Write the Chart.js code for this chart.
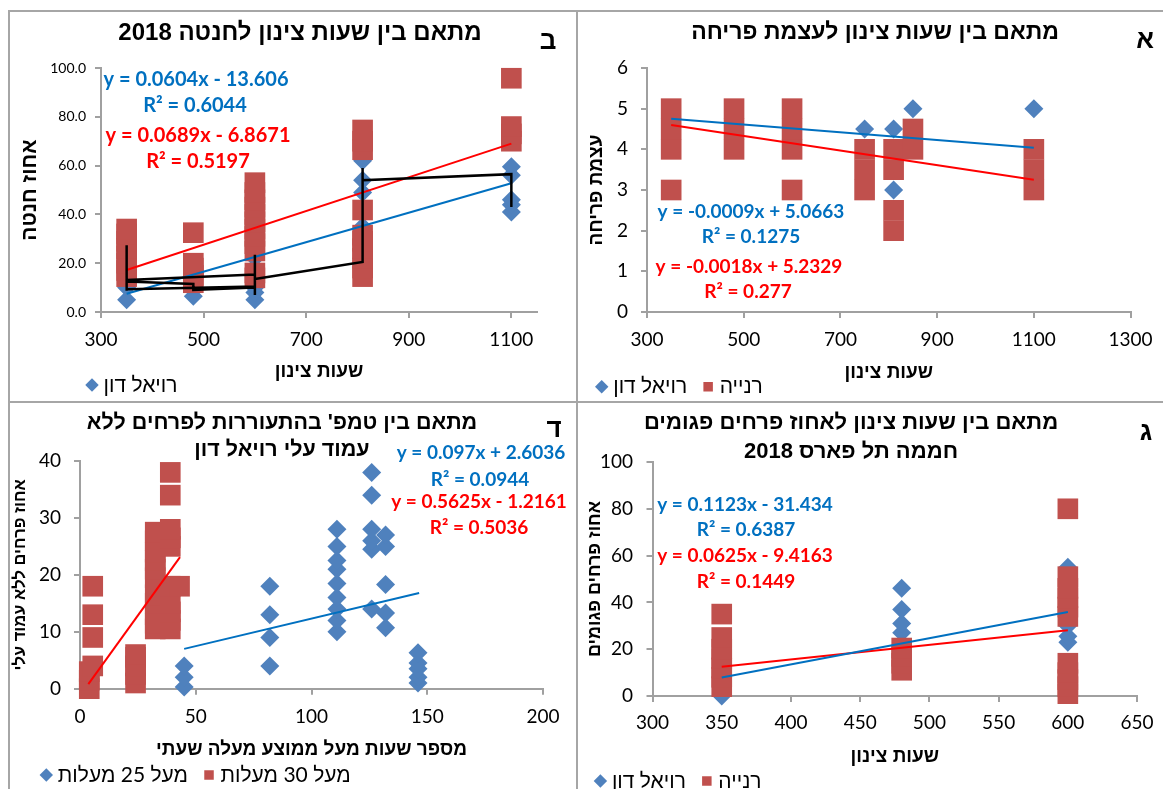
<!DOCTYPE html>
<html lang="he">
<head>
<meta charset="utf-8">
<title>מתאם בין שעות צינון</title>
<script src="https://cdn.jsdelivr.net/npm/chart.js@4.4.0/dist/chart.umd.min.js"></script>
<style>
  body { margin: 0; background: #fff; width: 1163px; height: 789px; position: relative; overflow: hidden; }
  .line { position: absolute; background: #a6a6a6; }
  canvas { position: absolute; direction: rtl; }
</style>
</head>
<body>
<div class="line" style="left:8px;top:10px;width:1155px;height:2px"></div>
<div class="line" style="left:8px;top:10px;width:2px;height:779px"></div>
<div class="line" style="left:576px;top:10px;width:2px;height:779px"></div>
<div class="line" style="left:8px;top:401px;width:1155px;height:2px"></div>
<canvas id="chartB" width="566" height="389" style="left:10px;top:12px"></canvas>
<canvas id="chartA" width="585" height="389" style="left:578px;top:12px"></canvas>
<canvas id="chartD" width="566" height="386" style="left:10px;top:403px"></canvas>
<canvas id="chartG" width="585" height="386" style="left:578px;top:403px"></canvas>
<script>
// ---- data: panel ב (fruit set) ----
const bHours = [350, 480, 600, 810, 1100];
const bRoyalDon = [[5, 10], [6.5, 9], [5, 8, 10, 22], [35, 49, 54, 62], [41, 44, 46, 56, 59.5]];
const bRanya = [[14.5, 17, 20, 23, 26, 29, 32, 34], [12, 15, 18, 20, 32.5], [14, 16, 25, 28, 31, 34, 37, 40, 43, 46, 49, 53], [14.5, 18, 22, 26, 29, 31.5, 41.8, 66.5, 70, 74.6], [70, 73, 76, 95.8]];
const bTrendHours = [350, 1100];
const bRoyalDonTrend = [7.5, 52.8];
const bRanyaTrend = [17.2, 69.0];
const bLineAHours = [350, 600];
const bLineAValues = [13.1, 15.4];
const bLineBHours = [350, 600];
const bLineBValues = [9.3, 10.4];
const bLineCHours = [350, 480, 480, 600];
const bLineCValues = [12.5, 11.5, 9, 10];
const bLineDHours = [600, 810, 810, 1100, 1100];
const bLineDValues = [13.5, 20.5, 54, 56.5, 43];
const bErrHours = [350, 600, 810];
const bErrLow = [8.7, 7, 20.5];
const bErrHigh = [27.4, 23.5, 59];
const bXTicks = [300, 500, 700, 900, 1100];
const bYTicks = [0, 20, 40, 60, 80, 100];

// ---- data: panel א (bloom strength) ----
const aHours = [350, 480, 600, 750, 810, 850, 1100];
const aRoyalDon = [[4.5, 5], [4.5], [4.5], [4.5], [3, 4.5], [5], [5]];
const aRanya = [[3, 4, 4.5, 5], [4, 4.5, 5], [3, 4, 4.5, 5], [3, 3.5, 4], [2, 2.5, 3.5, 4], [4, 4.5], [3, 3.5, 4]];
const aTrendHours = [350, 1100];
const aRoyalDonTrend = [4.75, 4.04];
const aRanyaTrend = [4.6, 3.25];
const aXTicks = [300, 500, 700, 900, 1100, 1300];
const aYTicks = [0, 1, 2, 3, 4, 5, 6];

// ---- data: panel ד (flowers without leaf column) ----
const dWarmHours = [45, 82, 111, 126, 132, 146];
const dAbove25 = [[0.3, 2, 4], [4, 9, 13, 18], [10, 12, 14, 16, 18.5, 21, 22.5, 25, 28], [14, 24.5, 26, 28, 34, 38], [10.7, 13.3, 18.3, 25, 27], [1, 2, 3.5, 4.5, 6.3]];
const dHotHours = [4, 5.5, 24, 32.5, 39, 43];
const dAbove30 = [[0, 1.5, 3], [4, 9, 13, 18], [1, 2.5, 4, 5.5, 6], [10.5, 11.5, 13, 15, 16.5, 19.5, 21, 22.5, 24, 26, 27.5], [10.5, 12, 13.5, 15, 18, 25, 26.5, 28, 34, 38], [18]];
const dAbove25TrendX = [45, 146.5];
const dAbove25Trend = [7.0, 16.8];
const dAbove30TrendX = [3.6, 43.2];
const dAbove30Trend = [0.8, 23.1];
const dXTicks = [0, 50, 100, 150, 200];
const dYTicks = [0, 10, 20, 30, 40];

// ---- data: panel ג (damaged flowers) ----
const gHours = [350, 480, 600];
const gRoyalDon = [[0, 5, 10], [22, 27, 31, 37, 46], [23, 25.5, 30, 55]];
const gRanya = [[4, 8, 12, 16, 20, 25, 35], [11, 14, 17, 20.5], [1, 4, 7, 10, 14, 34, 38, 42, 46, 51, 80]];
const gTrendHours = [350, 600];
const gRoyalDonTrend = [7.9, 35.9];
const gRanyaTrend = [12.5, 28.1];
const gXTicks = [300, 350, 400, 450, 500, 550, 600, 650];
const gYTicks = [0, 20, 40, 60, 80, 100];

const BLUE = '#4F81BD';
const RED = '#C0504D';
const TREND_BLUE = '#0070C0';
const TREND_RED = '#FF0000';
const AXIS = '#a0a0a0';
const HEB = "'Liberation Sans', Arial, sans-serif";
const NUM = "Lato, 'Liberation Sans', sans-serif";

Chart.defaults.color = '#000';
Chart.defaults.font.family = NUM;

const groupPoints = (xs, groups) => xs.flatMap((x, i) => groups[i].map(y => ({ x, y })));
const pairPoints = (xs, ys) => xs.map((x, i) => ({ x, y: ys[i] }));
// several polylines in one dataset, split by gaps
const joinLines = (lines) => lines.flatMap((l, i) => (i ? [{ x: l[0][0], y: null }] : []).concat(pairPoints(l[0], l[1])));

function markerSet(label, points, diamond) {
  return {
    label,
    data: points,
    pointStyle: diamond ? 'rectRot' : 'rect',
    pointRadius: diamond ? 9.5 : 14.6,
    pointHoverRadius: diamond ? 9.5 : 14.6,
    backgroundColor: diamond ? BLUE : RED,
    borderColor: diamond ? BLUE : RED,
    borderWidth: 0,
    showLine: false,
    clip: false,
    order: diamond ? 3 : 2
  };
}

function lineSet(points, color, width, order) {
  return {
    label: '',
    data: points,
    showLine: true,
    spanGaps: false,
    borderColor: color,
    borderWidth: width,
    pointRadius: 0,
    pointHoverRadius: 0,
    clip: false,
    order
  };
}

function axis(o) {
  return {
    type: 'linear',
    min: o.min,
    max: o.max,
    afterBuildTicks: s => { s.ticks = o.ticks.map(v => ({ value: v })); },
    afterFit: s => {
      if (o.width !== undefined) s.width = o.width;
      if (o.height !== undefined) s.height = o.height;
    },
    border: { display: true, color: AXIS, width: 2 },
    grid: { drawOnChartArea: false, drawTicks: true, tickLength: 6, color: AXIS, lineWidth: 2 },
    ticks: {
      font: { family: NUM, size: o.tickSize },
      color: '#000',
      padding: o.tickPad,
      maxRotation: 0,
      autoSkip: false,
      callback: o.format || (v => v)
    },
    title: {
      display: true,
      text: o.title,
      color: '#000',
      font: { family: HEB, size: o.titleSize, weight: 'bold' },
      padding: o.titlePad
    }
  };
}

// titles, panel letter, trendline equations, legend offset
const panelText = {
  id: 'panelText',
  afterLayout(chart, args, opts) {
    if (chart.legend && opts.legendDx) {
      chart.legend.left += opts.legendDx;
      chart.legend.right += opts.legendDx;
    }
  },
  afterDraw(chart, args, opts) {
    const ctx = chart.ctx;
    ctx.save();
    ctx.textBaseline = 'middle';
    ctx.textAlign = 'center';
    ctx.fillStyle = '#000';
    ctx.direction = 'rtl';
    ctx.font = 'bold ' + opts.titleSize + 'px ' + HEB;
    opts.title.forEach((line, i) => ctx.fillText(line, opts.titleX, opts.titleY + i * opts.titleGap));
    ctx.font = 'bold 26px ' + HEB;
    ctx.fillText(opts.letter, opts.letterX, opts.letterY);
    ctx.direction = 'ltr';
    ctx.font = 'bold ' + opts.noteSize + 'px ' + NUM;
    opts.notes.forEach(n => {
      ctx.fillStyle = n.color;
      ctx.fillText(n.text, n.x, n.y);
    });
    ctx.restore();
  }
};

function makePanel(id, p) {
  return new Chart(document.getElementById(id), {
    type: 'scatter',
    data: { datasets: p.datasets },
    options: {
      responsive: false,
      animation: false,
      devicePixelRatio: 1,
      events: [],
      layout: { padding: p.padding },
      scales: { x: p.x, y: p.y },
      plugins: {
        tooltip: { enabled: false },
        title: { display: false },
        legend: {
          display: true,
          position: 'bottom',
          align: 'start',
          textDirection: 'rtl',
          labels: {
            usePointStyle: true,
            boxWidth: 2,
            boxHeight: 9.5,
            padding: 20,
            color: '#000',
            font: { family: NUM, size: 21 },
            filter: item => item.datasetIndex < p.legendCount,
            sort: (a, b) => a.datasetIndex - b.datasetIndex
          }
        },
        panelText: p.text
      }
    },
    plugins: [panelText]
  });
}

// panel ב
makePanel('chartB', {
  legendCount: 1,
  padding: { left: 0, right: 39, top: 56, bottom: -4.5 },
  datasets: [
    markerSet('רויאל דון', groupPoints(bHours, bRoyalDon), true),
    markerSet('רנייה', groupPoints(bHours, bRanya), false),
    lineSet(pairPoints(bTrendHours, bRoyalDonTrend), TREND_BLUE, 2, 1),
    lineSet(pairPoints(bTrendHours, bRanyaTrend), TREND_RED, 2, 1),
    lineSet(joinLines([
      [bLineAHours, bLineAValues],
      [bLineBHours, bLineBValues],
      [bLineCHours, bLineCValues],
      [bLineDHours, bLineDValues]
    ].concat(bErrHours.map((h, i) => [[h, h], [bErrLow[i], bErrHigh[i]]]))), '#000', 2.5, 0)
  ],
  x: axis({ min: 300, max: 1150, ticks: bXTicks, tickSize: 19, tickPad: 10.4, height: 42.5, title: 'שעות צינון', titleSize: 19, titlePad: { bottom: -28.9 } }),
  y: axis({ min: 0, max: 100, ticks: bYTicks, tickSize: 14, tickPad: 9, width: 91, title: 'אחוז חנטה', titleSize: 21, titlePad: { top: 7.4 }, format: v => v.toFixed(1) }),
  text: {
    legendDx: 61,
    title: ['מתאם בין שעות צינון לחנטה 2018'], titleSize: 24, titleX: 290, titleY: 21, titleGap: 0,
    letter: 'ב', letterX: 538, letterY: 30,
    noteSize: 20,
    notes: [
      { text: 'y = 0.0604x - 13.606', color: TREND_BLUE, x: 186, y: 68 },
      { text: 'R² = 0.6044', color: TREND_BLUE, x: 185, y: 94 },
      { text: 'y = 0.0689x - 6.8671', color: TREND_RED, x: 188, y: 124 },
      { text: 'R² = 0.5197', color: TREND_RED, x: 188, y: 150 }
    ]
  }
});

// panel א
makePanel('chartA', {
  legendCount: 2,
  padding: { left: 0, right: 28, top: 56, bottom: -6.2 },
  datasets: [
    markerSet('רויאל דון', groupPoints(aHours, aRoyalDon), true),
    markerSet('רנייה', groupPoints(aHours, aRanya), false),
    lineSet(pairPoints(aTrendHours, aRoyalDonTrend), TREND_BLUE, 2, 1),
    lineSet(pairPoints(aTrendHours, aRanyaTrend), TREND_RED, 2, 1)
  ],
  x: axis({ min: 300, max: 1300, ticks: aXTicks, tickSize: 19, tickPad: 10.4, height: 44.2, title: 'שעות צינון', titleSize: 19, titlePad: { bottom: -28.2 } }),
  y: axis({ min: 0, max: 6, ticks: aYTicks, tickSize: 19, tickPad: 13, width: 69, title: 'עצמת פריחה', titleSize: 19, titlePad: { top: 7.6 } }),
  text: {
    legendDx: 2.7,
    title: ['מתאם בין שעות צינון לעצמת פריחה'], titleSize: 23, titleX: 297, titleY: 21, titleGap: 0,
    letter: 'א', letterX: 567, letterY: 29,
    noteSize: 19,
    notes: [
      { text: 'y = -0.0009x + 5.0663', color: TREND_BLUE, x: 173, y: 200 },
      { text: 'R² = 0.1275', color: TREND_BLUE, x: 173, y: 225 },
      { text: 'y = -0.0018x + 5.2329', color: TREND_RED, x: 171, y: 255 },
      { text: 'R² = 0.277', color: TREND_RED, x: 170, y: 280 }
    ]
  }
});

// panel ד
makePanel('chartD', {
  legendCount: 2,
  padding: { left: 0, right: 33, top: 58, bottom: -6.5 },
  datasets: [
    markerSet('מעל 25 מעלות', groupPoints(dWarmHours, dAbove25), true),
    markerSet('מעל 30 מעלות', groupPoints(dHotHours, dAbove30), false),
    lineSet(pairPoints(dAbove25TrendX, dAbove25Trend), TREND_BLUE, 2, 1),
    lineSet(pairPoints(dAbove30TrendX, dAbove30Trend), TREND_RED, 2, 1)
  ],
  x: axis({ min: 0, max: 200, ticks: dXTicks, tickSize: 19, tickPad: 10.9, height: 55.8, title: 'מספר שעות מעל ממוצע מעלה שעתי', titleSize: 19, titlePad: { bottom: -16.9 } }),
  y: axis({ min: 0, max: 40, ticks: dYTicks, tickSize: 19, tickPad: 13, width: 70, title: 'אחוז פרחים ללא עמוד עלי', titleSize: 16.5, titlePad: { top: 0.1 } }),
  text: {
    legendDx: 15.3,
    title: ["מתאם בין טמפ' בהתעוררות לפרחים ללא", 'עמוד עלי רויאל דון'], titleSize: 21.5, titleX: 272, titleY: 20, titleGap: 27,
    letter: 'ד', letterX: 544, letterY: 27,
    noteSize: 19,
    notes: [
      { text: 'y = 0.097x + 2.6036', color: TREND_BLUE, x: 471, y: 50 },
      { text: 'R² = 0.0944', color: TREND_BLUE, x: 470, y: 77 },
      { text: 'y = 0.5625x - 1.2161', color: TREND_RED, x: 469, y: 99 },
      { text: 'R² = 0.5036', color: TREND_RED, x: 469, y: 125 }
    ]
  }
});

// panel ג
makePanel('chartG', {
  legendCount: 2,
  padding: { left: 0, right: 23, top: 59, bottom: -12.5 },
  datasets: [
    markerSet('רויאל דון', groupPoints(gHours, gRoyalDon), true),
    markerSet('רנייה', groupPoints(gHours, gRanya), false),
    lineSet(pairPoints(gTrendHours, gRoyalDonTrend), TREND_BLUE, 2, 1),
    lineSet(pairPoints(gTrendHours, gRanyaTrend), TREND_RED, 2, 1)
  ],
  x: axis({ min: 300, max: 650, ticks: gXTicks, tickSize: 19, tickPad: 9.4, height: 54.5, title: 'שעות צינון', titleSize: 19, titlePad: { bottom: -17.9 } }),
  y: axis({ min: 0, max: 100, ticks: gYTicks, tickSize: 19, tickPad: 13.5, width: 74.5, title: 'אחוז פרחים פגומים', titleSize: 18, titlePad: { top: 6.2 } }),
  text: {
    legendDx: 1.4,
    title: ['מתאם בין שעות צינון לאחוז פרחים פגומים', 'חממה תל פארס 2018'], titleSize: 22, titleX: 273, titleY: 20, titleGap: 28.5,
    letter: 'ג', letterX: 568, letterY: 30,
    noteSize: 19,
    notes: [
      { text: 'y = 0.1123x - 31.434', color: TREND_BLUE, x: 167, y: 102 },
      { text: 'R² = 0.6387', color: TREND_BLUE, x: 168, y: 127 },
      { text: 'y = 0.0625x - 9.4163', color: TREND_RED, x: 167, y: 153 },
      { text: 'R² = 0.1449', color: TREND_RED, x: 168, y: 179 }
    ]
  }
});
</script>
</body>
</html>
